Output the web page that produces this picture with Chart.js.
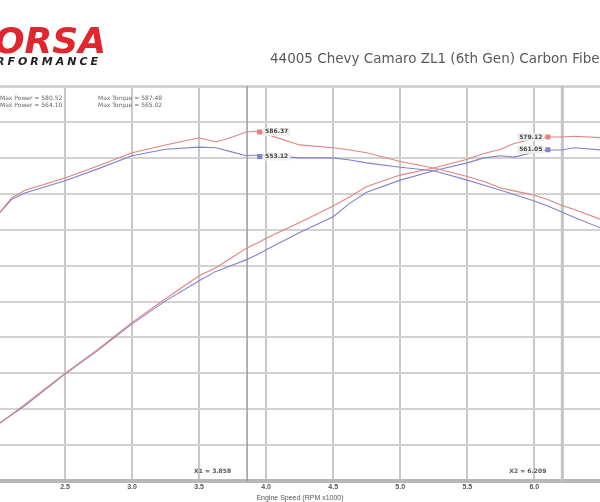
<!DOCTYPE html>
<html>
<head>
<meta charset="utf-8">
<script src="https://cdn.jsdelivr.net/npm/chart.js@4.4.1/dist/chart.umd.min.js"></script>
<style>
  html, body { margin: 0; padding: 0; background: #fff; }
  #wrap { width: 600px; height: 502px; position: relative; }
</style>
</head>
<body>
<div id="wrap"><canvas id="dynoChart"></canvas></div>
<script>
// Engine speed in RPM x1000
const rpm = [2.0, 2.1, 2.2, 2.5, 2.75, 3.0, 3.25, 3.5, 3.625, 3.75, 3.85, 3.95, 4.0, 4.25, 4.5, 4.625, 4.75, 5.0, 5.25, 5.5, 5.625, 5.75, 5.85, 6.0, 6.1, 6.2, 6.3, 6.5];

// Run 1 (red) and run 2 (blue)
const power1 = [179, 193, 207, 250, 284, 321, 354, 386, 397, 412, 424, 433, 438, 460, 483, 496, 510, 526, 536, 548, 556, 562, 570, 577, 579, 579, 580, 578];
const torque1 = [471, 494, 505, 522, 539, 557, 568, 578, 572, 579, 586, 587, 583, 568, 564, 561, 557, 545, 536, 524, 517, 508, 504, 498, 492, 484, 478, 464];
const power2 = [179, 192, 205, 249, 283, 319, 351, 379, 392, 401, 408, 417, 422, 446, 468, 487, 502, 519, 532, 543, 550, 553, 551, 558, 561, 561, 564, 561];
const torque2 = [471, 492, 501, 518, 535, 553, 562, 565, 564, 558, 553, 554, 554, 550, 550, 547, 543, 537, 532, 519, 512, 505, 499, 490, 483, 475, 467, 452];

const xTicks = [2.5, 3.0, 3.5, 4.0, 4.5, 5.0, 5.5, 6.0];
const markers = [3.858, 6.209];
const markerValues = [
    { red: '586.37', blue: '553.12' },
    { red: '579.12', blue: '561.05' }
];
const legendLines = [
    ['Max Power = 580.52', 'Max Torque = 587.48'],
    ['Max Power = 564.10', 'Max Torque = 565.02']
];
const title = '44005 Chevy Camaro ZL1 (6th Gen) Carbon Fiber Cold Air Intake';

const RED = '#e28282';
const BLUE = '#8282cc';

function toPoints(values) {
    return rpm.map((r, i) => ({ x: r, y: values[i] }));
}

// Value of a series at a given rpm (for label placement)
function valueAt(values, r) {
    for (let i = 1; i < rpm.length; i++) {
        if (r <= rpm[i]) {
            const t = (r - rpm[i - 1]) / (rpm[i] - rpm[i - 1]);
            return values[i - 1] + t * (values[i] - values[i - 1]);
        }
    }
    return values[values.length - 1];
}

const overlay = {
    id: 'overlay',
    beforeDatasetsDraw(chart) {
        const ctx = chart.ctx;
        const xs = chart.scales.x;
        const area = chart.chartArea;
        ctx.save();
        // marker cursors
        ctx.strokeStyle = '#9a9a9a';
        ctx.lineWidth = 1.5;
        let px = xs.getPixelForValue(markers[0]);
        ctx.beginPath(); ctx.moveTo(px, area.top); ctx.lineTo(px, area.bottom); ctx.stroke();
        ctx.strokeStyle = '#c4c4c4';
        ctx.lineWidth = 3;
        px = xs.getPixelForValue(markers[1]);
        ctx.beginPath(); ctx.moveTo(px, area.top); ctx.lineTo(px, area.bottom); ctx.stroke();
        ctx.restore();
    },
    afterDatasetsDraw(chart) {
        const ctx = chart.ctx;
        const xs = chart.scales.x;
        const ys = chart.scales.y;
        const area = chart.chartArea;
        ctx.save();
        ctx.font = 'bold 6px "DejaVu Sans"';
        ctx.textBaseline = 'middle';

        function tag(text, x, y, color, squareLeft) {
            const w = ctx.measureText(text).width + 4;
            const bx = squareLeft ? x + 6 : x - w - 6;
            ctx.fillStyle = '#efefef';
            ctx.fillRect(bx, y - 4, w, 8);
            ctx.fillStyle = '#444';
            ctx.textAlign = 'left';
            ctx.fillText(text, bx + 2, y);
            ctx.fillStyle = color;
            ctx.fillRect(squareLeft ? x : x - 5, y - 2.5, 5, 5);
        }

        // left cursor: torque values
        let mx = xs.getPixelForValue(markers[0]) + 10;
        tag(markerValues[0].red, mx, ys.getPixelForValue(valueAt(torque1, markers[0])), RED, true);
        tag(markerValues[0].blue, mx, ys.getPixelForValue(valueAt(torque2, markers[0])) + 1, BLUE, true);
        // right cursor: power values
        mx = xs.getPixelForValue(markers[1]) - 12;
        tag(markerValues[1].red, mx, ys.getPixelForValue(valueAt(power1, markers[1])), RED, false);
        tag(markerValues[1].blue, mx, ys.getPixelForValue(valueAt(power2, markers[1])), BLUE, false);

        // cursor readouts at the bottom
        ctx.font = 'bold 6px "DejaVu Sans"';
        ctx.textAlign = 'right';
        ctx.fillStyle = '#555';
        ctx.fillText('X1 = ' + markers[0].toFixed(3), xs.getPixelForValue(markers[0]) - 16, area.bottom - 10);
        ctx.fillText('X2 = ' + markers[1].toFixed(3), xs.getPixelForValue(markers[1]) - 16, area.bottom - 10);

        // legend text inside the plot
        ctx.textAlign = 'left';
        ctx.fillStyle = '#666';
        ctx.font = '6px "DejaVu Sans"';
        legendLines.forEach((line, i) => {
            const y = area.top + 12 + i * 7;
            ctx.fillText(line[0], 0, y);
            ctx.fillText(line[1], 98, y);
        });
        ctx.restore();
    },
    afterDraw(chart) {
        const ctx = chart.ctx;
        ctx.save();
        // logo
        ctx.fillStyle = '#e0262f';
        ctx.font = 'italic bold 36px "DejaVu Sans"';
        ctx.textAlign = 'right';
        ctx.textBaseline = 'alphabetic';
        ctx.fillText('CORSA', 106, 53);
        ctx.fillStyle = '#222';
        ctx.font = 'italic bold 11px "DejaVu Sans"';
        ctx.letterSpacing = '3px';
        ctx.fillText('PERFORMANCE', 101, 65);
        ctx.letterSpacing = '0px';
        // title
        ctx.fillStyle = '#5a5a5a';
        ctx.font = '13.5px "DejaVu Sans"';
        ctx.textAlign = 'left';
        ctx.textBaseline = 'middle';
        ctx.fillText(title, 270, 59);
        ctx.restore();
    }
};

document.addEventListener('DOMContentLoaded', function() {
    const ctx = document.getElementById('dynoChart').getContext('2d');
    new Chart(ctx, {
        type: 'line',
        data: {
            datasets: [
                { label: 'Power 1', data: toPoints(power1), borderColor: RED },
                { label: 'Torque 1', data: toPoints(torque1), borderColor: RED },
                { label: 'Power 2', data: toPoints(power2), borderColor: BLUE },
                { label: 'Torque 2', data: toPoints(torque2), borderColor: BLUE }
            ]
        },
        options: {
            responsive: true,
            maintainAspectRatio: false,
            animation: false,
            layout: { padding: { top: 86, left: 0, right: 0, bottom: 0 } },
            elements: {
                point: { radius: 0 },
                line: { borderWidth: 1.1, tension: 0 }
            },
            plugins: {
                legend: { display: false },
                tooltip: { enabled: false }
            },
            scales: {
                x: {
                    type: 'linear',
                    min: 2.015,
                    max: 6.49,
                    afterBuildTicks: scale => { scale.ticks = xTicks.map(v => ({ value: v })); },
                    ticks: {
                        autoSkip: false,
                        maxRotation: 0,
                        padding: 2,
                        color: '#555',
                        font: { size: 7, weight: 'bold' },
                        callback: v => v.toFixed(1)
                    },
                    grid: { color: '#c8c8c8', lineWidth: 2, drawTicks: false },
                    border: { display: true, color: '#b8b8b8', width: 4 },
                    title: {
                        display: true,
                        text: 'Engine Speed (RPM x1000)',
                        color: '#555',
                        font: { size: 7 },
                        padding: 0
                    }
                },
                y: {
                    min: 100,
                    max: 650,
                    ticks: { stepSize: 50, display: false },
                    grid: {
                        color: '#d2d2d2',
                        lineWidth: c => (c.tick && c.tick.value === 650 ? 3 : 2),
                        drawTicks: false
                    },
                    border: { display: false }
                }
            }
        },
        plugins: [overlay]
    });
});
</script>
</body>
</html>
